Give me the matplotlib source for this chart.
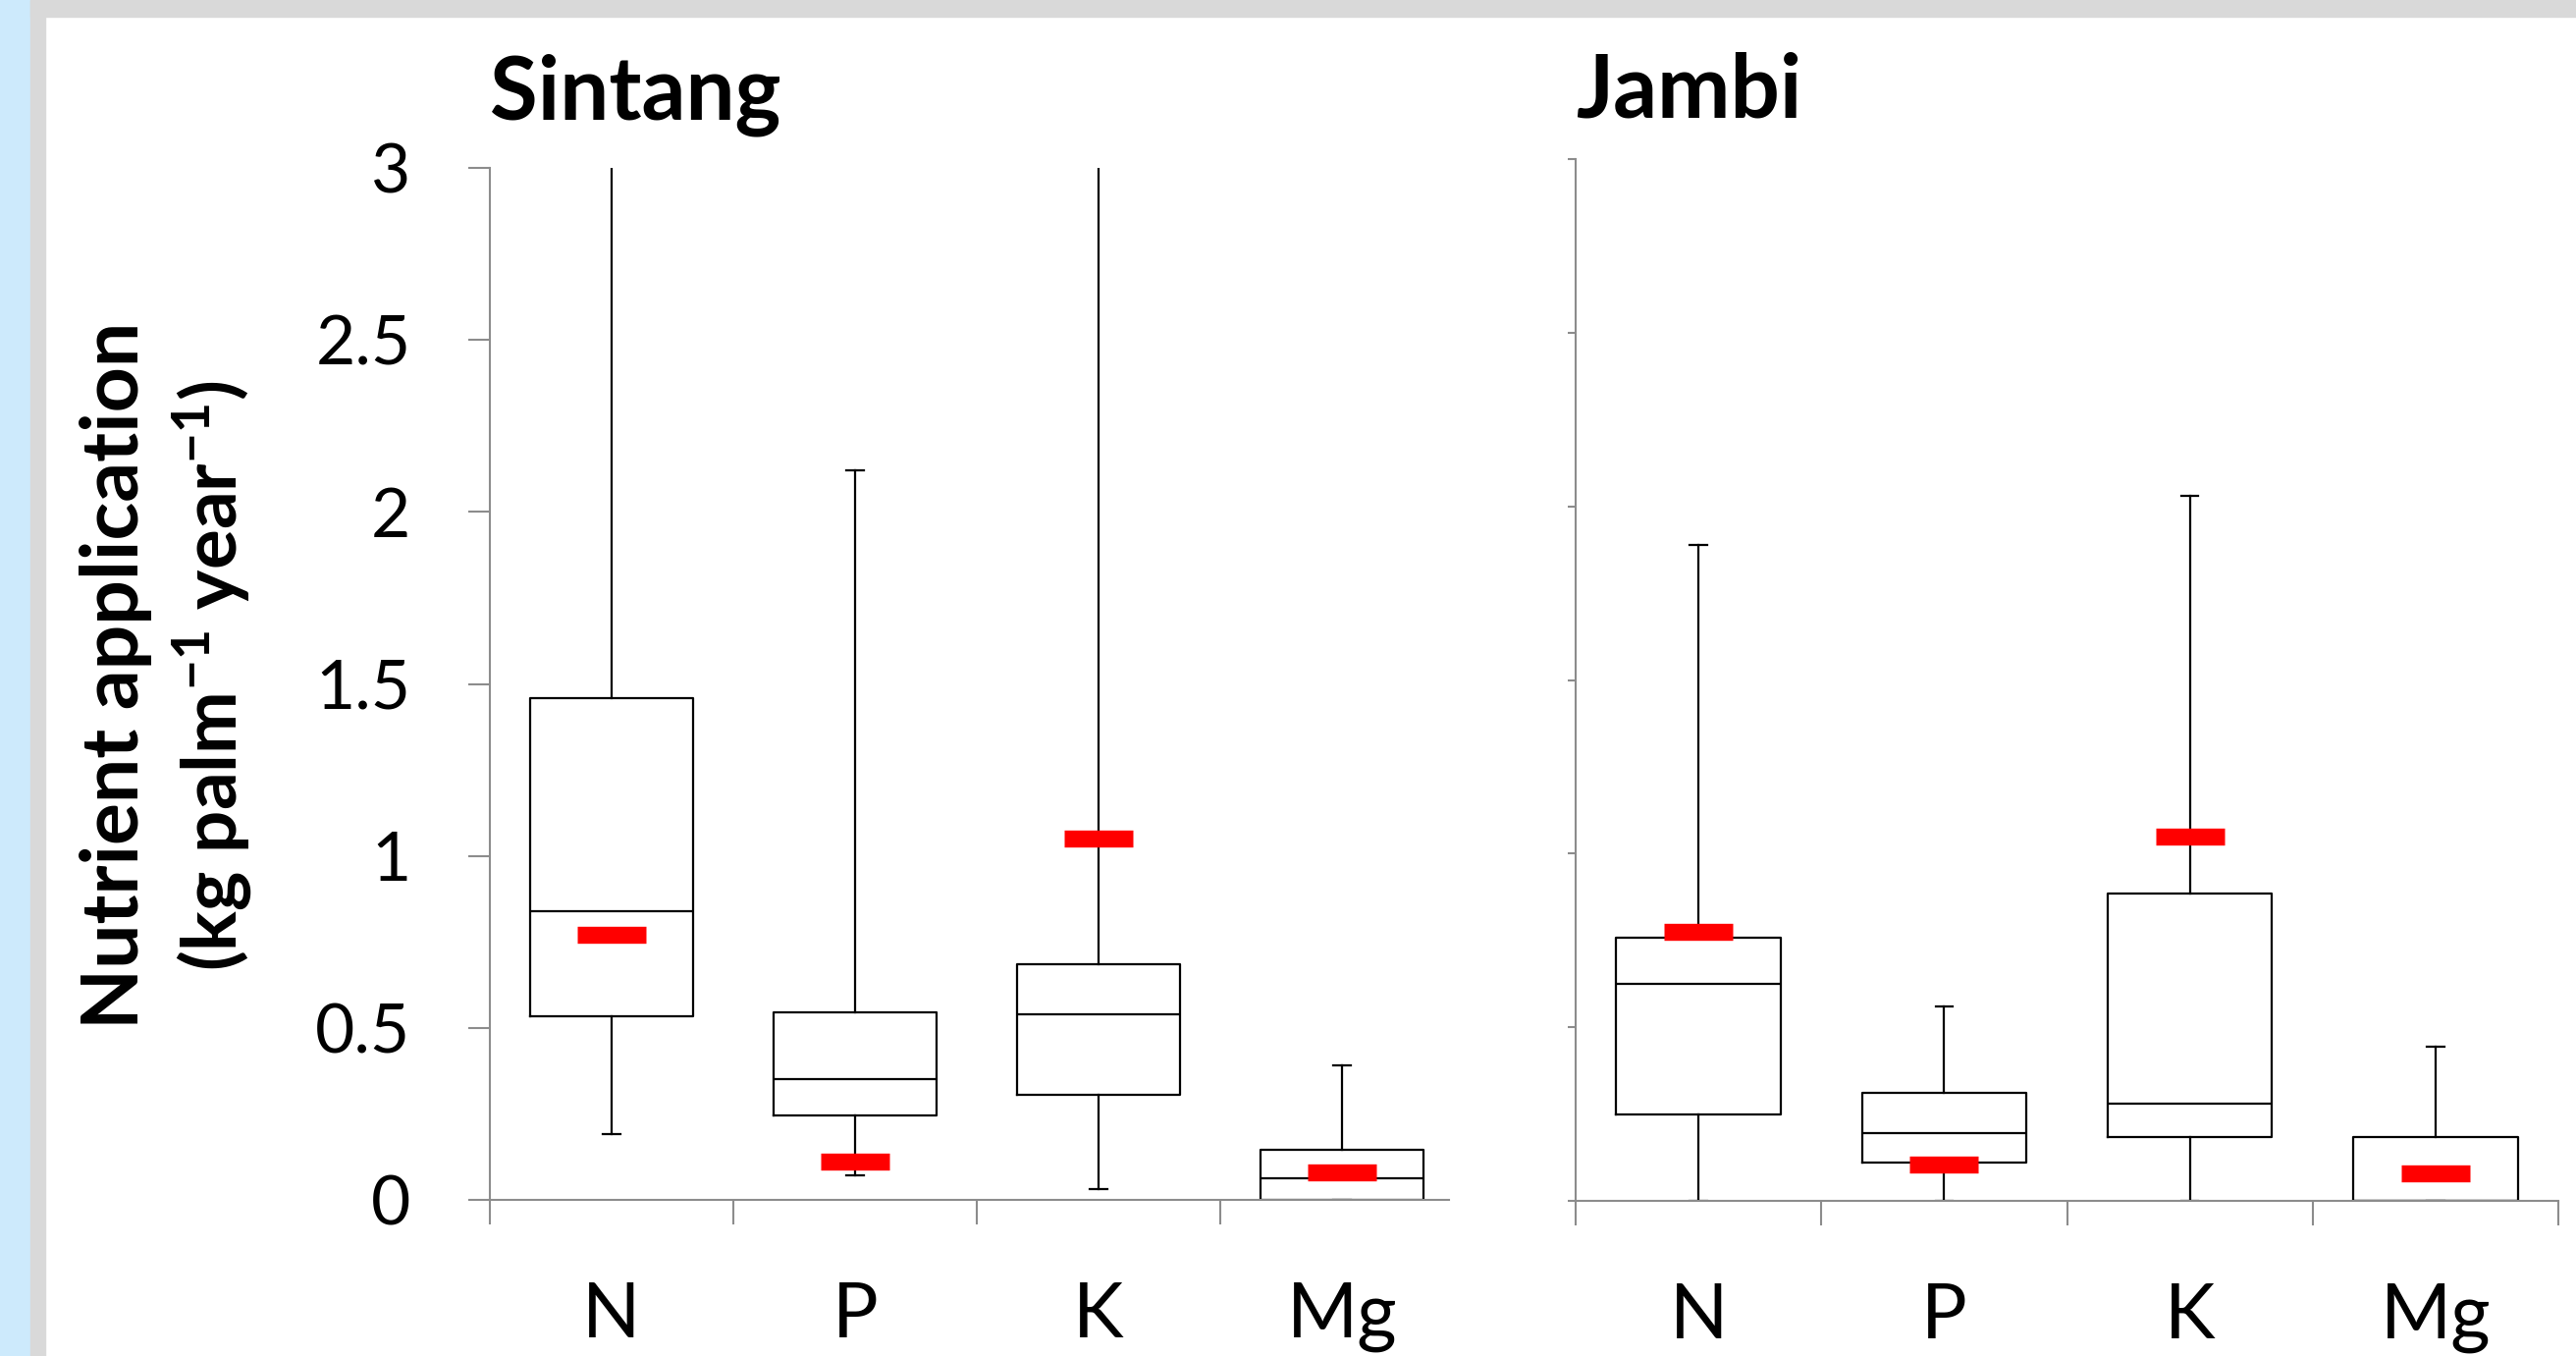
import matplotlib
matplotlib.use("Agg")
import matplotlib.pyplot as plt
from matplotlib.patches import Rectangle

plt.rcParams['font.family'] = ['Lato', 'DejaVu Sans']
plt.rcParams['mathtext.fontset'] = 'custom'
plt.rcParams['mathtext.rm'] = 'Lato:bold'
plt.rcParams['mathtext.default'] = 'rm'

categories = ["N", "P", "K", "Mg"]

# Sintang
s_whishi = [3.4, 2.12, 3.4, 0.39]
s_q3 = [1.46, 0.545, 0.685, 0.145]
s_med = [0.84, 0.35, 0.54, 0.063]
s_q1 = [0.535, 0.245, 0.305, 0.0]
s_whislo = [0.19, 0.07, 0.03, 0.0]
s_mean = [0.77, 0.11, 1.05, 0.08]

# Jambi
j_whishi = [1.89, 0.56, 2.03, 0.445]
j_q3 = [0.757, 0.31, 0.885, 0.185]
j_med = [0.625, 0.195, 0.28, 0.0]
j_q1 = [0.25, 0.11, 0.185, 0.0]
j_whislo = [0.0, 0.0, 0.0, 0.0]
j_mean = [0.775, 0.105, 1.05, 0.08]

yticks = [0, 0.5, 1, 1.5, 2, 2.5, 3]
ytick_labels = ["0", "0.5", "1", "1.5", "2", "2.5", "3"]

W, H = 2624, 1381
fig = plt.figure(figsize=(W / 100, H / 100), dpi=100)
fig.patch.set_facecolor("white")

# frame decorations
fig.add_artist(Rectangle((0, 0), 31 / W, 1, transform=fig.transFigure, color="#cdeafc", zorder=0))
fig.add_artist(Rectangle((31 / W, 0), 15 / W, 1, transform=fig.transFigure, color="#d9d9d9", zorder=0))
fig.add_artist(Rectangle((31 / W, 1 - 17 / H), 1, 17 / H, transform=fig.transFigure, color="#d9d9d9", zorder=0))

axis_gray = "#8c8c8c"


def draw_panel(rect, whishi, q3, med, q1, whislo, mean, xmax, show_labels, ytick_len, title, title_y):
    ax = fig.add_axes(rect)
    stats = []
    for i in range(len(categories)):
        stats.append(dict(med=med[i], q1=q1[i], q3=q3[i], whislo=whislo[i], whishi=whishi[i], fliers=[]))
    pos = list(range(1, len(categories) + 1))
    lw = 1.6
    ax.bxp(stats, positions=pos, widths=0.67, showfliers=False,
           boxprops=dict(color="black", linewidth=lw),
           medianprops=dict(color="black", linewidth=lw),
           whiskerprops=dict(color="black", linewidth=lw),
           capprops=dict(color="black", linewidth=lw), capwidths=0.07)
    half = 0.14
    ax.hlines(mean, [p - half for p in pos], [p + half for p in pos], colors="#ff0000",
              linewidth=12.5, zorder=5)
    ax.set_ylim(0, 3)
    ax.set_xlim(0.5, xmax)
    for s in ["top", "right"]:
        ax.spines[s].set_visible(False)
    for s in ["left", "bottom"]:
        ax.spines[s].set_color(axis_gray)
        ax.spines[s].set_linewidth(1.5)
    ax.set_yticks(yticks)
    if show_labels:
        ax.set_yticklabels(ytick_labels, fontsize=50)
    else:
        ax.set_yticklabels([])
    ax.tick_params(axis="y", length=ytick_len, width=1.5, color=axis_gray, pad=42)
    bounds = [b + 0.5 for b in range(0, len(categories) + 1) if b + 0.5 <= xmax + 1e-9]
    ax.set_xticks(bounds)
    ax.set_xticklabels([])
    ax.tick_params(axis="x", which="major", length=18, width=1.5, color=axis_gray)
    ax.set_xticks(pos, minor=True)
    ax.set_xticklabels(categories, minor=True, fontsize=56)
    ax.tick_params(axis="x", which="minor", length=0, pad=60)
    ax.patch.set_alpha(0)
    ax.text(0, title_y, title, transform=ax.transAxes, fontsize=64, fontweight="bold",
            ha="left", va="baseline")
    return ax


draw_panel([499 / W, 159 / H, 977 / W, 1051 / H], s_whishi, s_q3, s_med, s_q1, s_whislo, s_mean,
           4.44, True, 16, "Sintang", 1.047)
draw_panel([1605 / W, 158 / H, 1001 / W, 1061 / H], j_whishi, j_q3, j_med, j_q1, j_whislo, j_mean,
           4.5, False, 6, "Jambi", 1.04)

fig.text(118 / W, 0.502, "Nutrient application", rotation=90, fontsize=58, fontweight="bold",
         ha="center", va="center")
fig.text(216 / W, 0.502, r"(kg palm$^{-1}$ year$^{-1}$)", rotation=90, fontsize=55,
         fontweight="bold", ha="center", va="center")

fig.savefig("out.png", dpi=100, facecolor=fig.get_facecolor())
